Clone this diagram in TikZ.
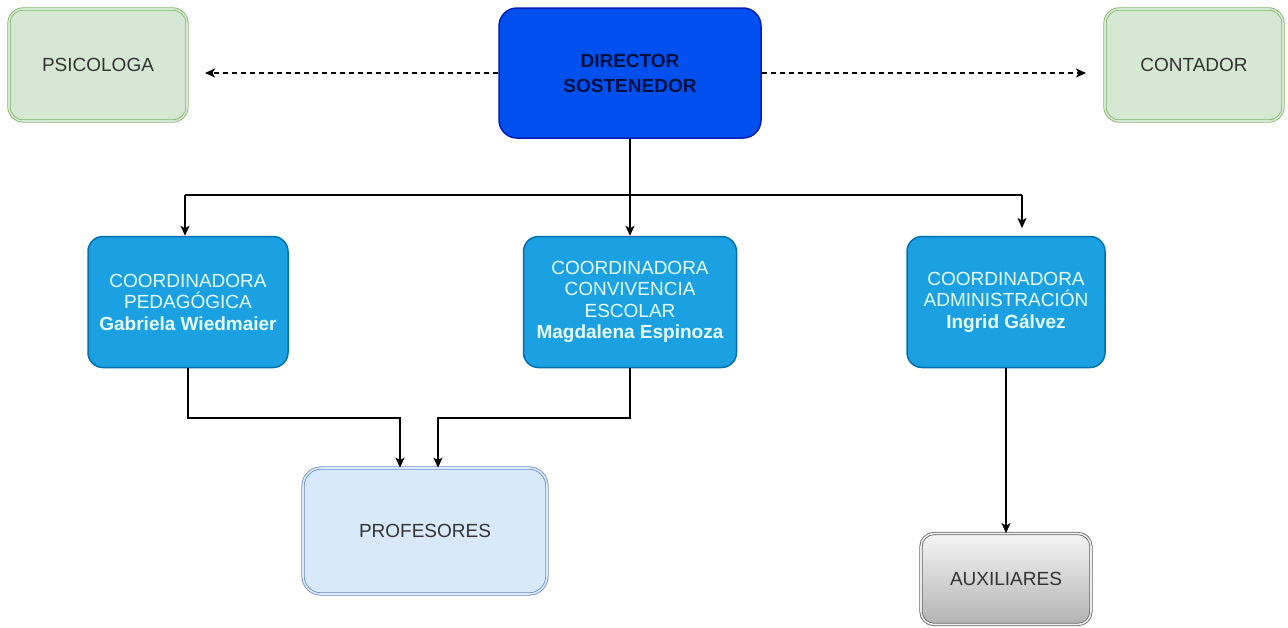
\documentclass[tikz,border=0pt]{standalone}
\usepackage{fontspec}
\setmainfont{Liberation Sans}
\usetikzlibrary{arrows.meta}
\definecolor{grnD}{HTML}{82B366}
\definecolor{grnF}{HTML}{D5E8D4}
\definecolor{dirF}{HTML}{0050EF}
\definecolor{dirD}{HTML}{001DBC}
\definecolor{dirT}{HTML}{001040}
\definecolor{coF}{HTML}{1BA1E2}
\definecolor{coD}{HTML}{006EAF}
\definecolor{coT}{HTML}{E8FFFF}
\definecolor{prF}{HTML}{DAE8FC}
\definecolor{prD}{HTML}{6C8EBF}
\definecolor{gyD}{HTML}{666666}
\definecolor{txt}{HTML}{333333}
\begin{document}
\begin{tikzpicture}[x=1pt,y=-1pt,
  basefont/.style={font=\fontsize{19}{22}\selectfont, align=center, inner sep=0pt},
  greenbox/.style={basefont, draw=grnD, double=grnF, double distance=1.6pt, line width=0.8pt, fill=grnF,
    rounded corners=14pt, minimum width=178pt, minimum height=112pt, text=txt},
  dirbox/.style={basefont, draw=dirD, line width=1.5pt, fill=dirF, rounded corners=18pt,
    minimum width=262pt, minimum height=130pt, text=dirT, font=\fontsize{19}{25}\selectfont\bfseries},
  cobox/.style={basefont, draw=coD, line width=1.5pt, fill=coF, rounded corners=15pt,
    minimum height=131pt, text=coT, font=\fontsize{19}{21.5}\selectfont},
  profbox/.style={basefont, draw=prD, double=prF, double distance=1.6pt, line width=0.8pt, fill=prF,
    rounded corners=18pt, minimum width=244pt, minimum height=126pt, text=txt},
  auxbox/.style={basefont, draw=gyD, double=white!92!black, double distance=1.6pt, line width=0.8pt,
    top color=white!96!black, bottom color=white!70!black,
    rounded corners=13pt, minimum width=170pt, minimum height=91pt, text=txt},
  arr/.style={line width=1.3pt, -{Stealth[length=10pt,width=9pt,inset=2.5pt]}},
  plain/.style={line width=1.3pt},
  darr/.style={line width=1.1pt, dash pattern=on 5pt off 4pt, -{Stealth[length=10pt,width=9pt,inset=2.5pt]}}
]
\useasboundingbox (0,0) rectangle (1288,627);

\node[greenbox] (psi) at (98,65) {PSICOLOGA};
\node[dirbox] (dir) at (630,73) {DIRECTOR\\SOSTENEDOR};
\node[greenbox] (con) at (1194,65) {CONTADOR};

\node[cobox, minimum width=200pt] (c1) at (188,302) {COORDINADORA\\PEDAGÓGICA\\\textbf{Gabriela Wiedmaier}};
\node[cobox, minimum width=213pt] (c2) at (630,302) {COORDINADORA\\CONVIVENCIA\\ESCOLAR\\\textbf{Magdalena Espinoza}};
\node[cobox, minimum width=198pt] (c3) at (1006,302) {COORDINADORA\\ADMINISTRACIÓN\\\textbf{Ingrid Gálvez}};

\node[profbox] (prof) at (425,531) {PROFESORES};
\node[auxbox] (aux) at (1006,579) {AUXILIARES};

% dashed links
\coordinate (dl) at (205,73);
\coordinate (dr) at (1086,73);
\draw[darr] (dir.west) -- (dl);
\draw[darr] (dir.east) -- (dr);

% director to coordinators
\coordinate (b1) at (185,195);
\coordinate (b3) at (1022,195);
\coordinate (t3) at (1022,228);
\draw[plain] (b1) -- (b3);
\draw[arr] (dir.south) -- (c2.north);
\draw[arr] (b1) -- (b1 |- c1.north);
\draw[arr] (b3) -- (t3);

% coordinators to profesores
\coordinate (p1) at (400,418);
\coordinate (p2) at (438,418);
\draw[arr] (c1.south) -- (c1.south |- p1) -- (p1) -- (p1 |- prof.north);
\draw[arr] (c2.south) -- (c2.south |- p2) -- (p2) -- (p2 |- prof.north);

% administracion to auxiliares
\draw[arr] (c3.south) -- (aux.north);
\end{tikzpicture}
\end{document}
